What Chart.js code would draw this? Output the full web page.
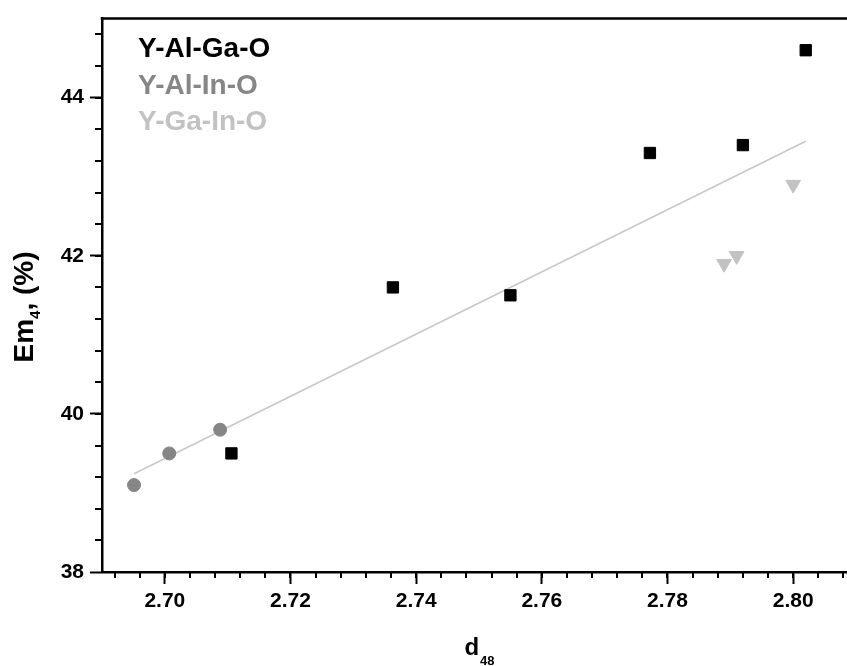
<!DOCTYPE html>
<html>
<head>
<meta charset="utf-8">
<script src="https://cdn.jsdelivr.net/npm/chart.js@4.4.1/dist/chart.umd.min.js"></script>
<style>
  html, body { margin: 0; padding: 0; background: #fff; overflow: hidden; }
  #wrap { width: 870px; height: 666px; }
</style>
</head>
<body>
<div id="wrap"><canvas id="c" width="870" height="666"></canvas></div>
<script>
// ---- data ----
const seriesNames = ['Y-Al-Ga-O', 'Y-Al-In-O', 'Y-Ga-In-O'];
const alGaX = [2.7106, 2.7363, 2.7550, 2.7772, 2.7920, 2.8020];
const alGaY = [39.5, 41.6, 41.5, 43.3, 43.4, 44.6];
const alInX = [2.6951, 2.7007, 2.7088];
const alInY = [39.1, 39.5, 39.8];
const gaInX = [2.7890, 2.7910, 2.8000];
const gaInY = [41.9, 42.0, 42.9];
const xTickValues = [2.70, 2.72, 2.74, 2.76, 2.78, 2.80];
const yTickValues = [38, 40, 42, 44];
const xTitle = ['d', '48'];
const yTitle = ['Em', '4', ', (%)'];

// ---- styling ----
const colors = ['#000000', '#868686', '#c2c2c2'];
const FONT = '"Liberation Sans", Arial, sans-serif';
const X_MIN = 2.69, X_MAX = 2.81, Y_MIN = 38, Y_MAX = 45;

const pts = (xs, ys) => xs.map((x, i) => ({ x: x, y: ys[i] }));

// linear least-squares fit over all points (the grey line)
const allX = alGaX.concat(alInX, gaInX);
const allY = alGaY.concat(alInY, gaInY);
const mx = allX.reduce((a, b) => a + b, 0) / allX.length;
const my = allY.reduce((a, b) => a + b, 0) / allY.length;
let sxy = 0, sxx = 0;
allX.forEach((x, i) => { sxy += (x - mx) * (allY[i] - my); sxx += (x - mx) * (x - mx); });
const slope = sxy / sxx, icpt = my - slope * mx;
const fitXs = [Math.min(...allX), Math.max(...allX)];
const fitData = fitXs.map(x => ({ x: x, y: icpt + slope * x }));

const minorTicks = {
  id: 'minorTicks',
  afterDraw(chart) {
    const ctx = chart.ctx, xs = chart.scales.x, ys = chart.scales.y, ca = chart.chartArea;
    ctx.save();
    ctx.strokeStyle = '#000';
    ctx.lineWidth = 2;
    for (let v = X_MIN + 0.002; v < X_MAX; v += 0.004) {
      const px = Math.round(xs.getPixelForValue(v));
      if (px > ca.right) break;
      ctx.beginPath(); ctx.moveTo(px, ca.bottom); ctx.lineTo(px, ca.bottom + 6); ctx.stroke();
    }
    for (let v = Y_MIN + 0.4; v < Y_MAX - 0.01; v += 0.4) {
      const py = Math.round(ys.getPixelForValue(v));
      ctx.beginPath(); ctx.moveTo(ca.left, py); ctx.lineTo(ca.left - 7, py); ctx.stroke();
    }
    // top frame line
    ctx.lineWidth = 2.5;
    ctx.beginPath(); ctx.moveTo(ca.left - 1.25, ca.top); ctx.lineTo(ca.right + 20, ca.top); ctx.stroke();
    ctx.restore();
  }
};

const textBits = {
  id: 'textBits',
  afterDraw(chart) {
    const ctx = chart.ctx, ca = chart.chartArea;
    ctx.save();
    // legend (text only)
    ctx.font = 'bold 28px ' + FONT;
    ctx.textBaseline = 'alphabetic';
    ctx.textAlign = 'left';
    chart.data.datasets.slice(0, 3).forEach((ds, i) => {
      ctx.fillStyle = colors[i];
      ctx.fillText(ds.label, 138, 57 + i * 36.5);
    });
    // x title with subscript
    ctx.fillStyle = '#000';
    ctx.font = 'bold 24px ' + FONT;
    const w1 = ctx.measureText(xTitle[0]).width;
    ctx.font = 'bold 13px ' + FONT;
    const w2 = ctx.measureText(xTitle[1]).width;
    const cx = (ca.left + ca.right) / 2;
    let x0 = cx - (w1 + w2) / 2;
    ctx.font = 'bold 24px ' + FONT;
    ctx.fillText(xTitle[0], x0, 655);
    ctx.font = 'bold 13px ' + FONT;
    ctx.fillText(xTitle[1], x0 + w1 + 1, 665);
    // y title rotated with subscript
    ctx.translate(33, 307);
    ctx.rotate(-Math.PI / 2);
    ctx.font = 'bold 28px ' + FONT;
    const a = ctx.measureText(yTitle[0]).width;
    const c = ctx.measureText(yTitle[2]).width;
    ctx.font = 'bold 15px ' + FONT;
    const b = ctx.measureText(yTitle[1]).width;
    let s = -(a + b + c) / 2;
    ctx.font = 'bold 28px ' + FONT;
    ctx.fillText(yTitle[0], s, 0);
    ctx.font = 'bold 15px ' + FONT;
    ctx.fillText(yTitle[1], s + a, 7);
    ctx.font = 'bold 28px ' + FONT;
    ctx.fillText(yTitle[2], s + a + b, 0);
    ctx.restore();
  }
};

new Chart(document.getElementById('c'), {
  data: {
    datasets: [
      { type: 'scatter', label: seriesNames[0], data: pts(alGaX, alGaY), pointStyle: 'rect',
        pointRadius: 8, backgroundColor: colors[0], borderColor: colors[0], borderWidth: 1, order: 1 },
      { type: 'scatter', label: seriesNames[1], data: pts(alInX, alInY), pointStyle: 'circle',
        pointRadius: 6.5, backgroundColor: colors[1], borderColor: colors[1], borderWidth: 1, order: 1 },
      { type: 'scatter', label: seriesNames[2], data: pts(gaInX, gaInY), pointStyle: 'triangle',
        rotation: 180, pointRadius: 8.5, backgroundColor: colors[2], borderColor: colors[2], borderWidth: 1, order: 1 },
      { type: 'line', label: 'fit', data: fitData, borderColor: '#c8c8c8', borderWidth: 1.6,
        pointRadius: 0, fill: false, order: 2 }
    ]
  },
  options: {
    responsive: false,
    animation: false,
    devicePixelRatio: 1,
    layout: { padding: { left: 0, top: 15, right: 14, bottom: 0 } },
    plugins: { legend: { display: false }, tooltip: { enabled: false } },
    scales: {
      x: {
        type: 'linear', min: X_MIN, max: X_MAX,
        afterBuildTicks: (sc) => { sc.ticks = xTickValues.map(v => ({ value: v })); },
        afterFit: (sc) => { sc.height = 94; },
        grid: { drawOnChartArea: false, drawTicks: true, tickLength: 12, tickWidth: 2, tickColor: '#000' },
        border: { display: true, color: '#000', width: 2.5 },
        ticks: { color: '#000', padding: 5, maxRotation: 0, font: { family: FONT, size: 21, weight: 'bold' },
          callback: (v) => Number(v).toFixed(2) }
      },
      y: {
        type: 'linear', min: Y_MIN, max: Y_MAX,
        afterBuildTicks: (sc) => { sc.ticks = yTickValues.map(v => ({ value: v })); },
        afterFit: (sc) => { sc.width = 102; },
        grid: { drawOnChartArea: false, drawTicks: true, tickLength: 12, tickWidth: 2, tickColor: '#000' },
        border: { display: true, color: '#000', width: 2.5 },
        ticks: { color: '#000', padding: 6, font: { family: FONT, size: 21, weight: 'bold' },
          callback: (v) => String(v) }
      }
    }
  },
  plugins: [minorTicks, textBits]
});
</script>
</body>
</html>
